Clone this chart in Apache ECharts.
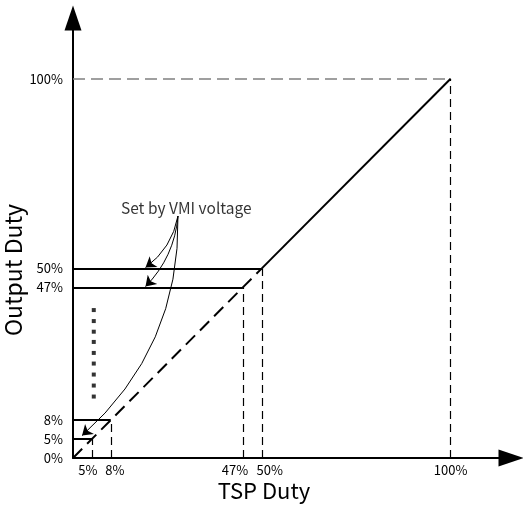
<!DOCTYPE html>
<html>
<head>
<meta charset="utf-8">
<title>TSP Duty / Output Duty</title>
<script src="https://cdn.jsdelivr.net/npm/echarts@6/dist/echarts.min.js"></script>
<style>
    html, body { margin: 0; padding: 0; background: #fff; }
    #main { width: 523px; height: 508px; }
</style>
</head>
<body>
<div id="main"></div>
<script>
// 刻度位置与标签（示意图，位置按原图读取）
var xTickPos = [5, 10, 45, 50, 100];
var xTickLabels = ['5%', '8%', '47%', '50%', '100%'];
var yTickPos = [0, 5, 10, 45, 50, 100];
var yTickLabels = ['0%', '5%', '8%', '47%', '50%', '100%'];

// VMI 设定点
var setPoints = [5, 10, 45, 50];
var fullScale = 100;

// 输出曲线
var solidLine = [[50, 50], [100, 100]];
var dashedLine = [[0, 0], [50, 50]];

// 竖排省略点
var dotsX = 5.5;
var dotsY = [39.0, 36.1, 33.3, 30.6, 27.7, 24.9, 22.0, 19.1, 16.2];

// 注释
var noteText = 'Set by VMI voltage';
var notePos = [30.0, 65.9];
var arrowStart = [27.8, 63.8];
var arrowEnds = [[19.2, 50.2], [19.2, 45.2], [2.4, 5.9]];
var arrowBend = [0.2, 0.18, 0.23];

var font = "'Noto Sans CJK JP', 'Noto Sans', sans-serif";

function lookup(pos, labels, v) {
    var i = pos.indexOf(v);
    return i < 0 ? '' : labels[i];
}

// x 轴标签的左右微调（rich 样式名）
var xShift = {'5%': 'r8', '8%': 'l8', '47%': 'r16', '50%': 'l16'};

function richStyle(pad) {
    return {fontFamily: font, fontSize: 13, color: '#000', padding: pad};
}

var myChart = echarts.init(document.getElementById('main'));

var option = {
    animation: false,
    grid: {left: 73, top: 18, right: 12, bottom: 50, outerBoundsMode: 'none'},
    xAxis: {
        type: 'value',
        min: 0,
        max: 116,
        name: 'TSP Duty',
        nameLocation: 'middle',
        nameGap: 22,
        nameMoveOverlap: false,
        nameTextStyle: {fontFamily: font, fontSize: 22, color: '#000', padding: [0, 56, 0, 0]},
        axisLine: {
            lineStyle: {color: '#000', width: 2},
            symbol: ['none', 'triangle'],
            symbolSize: [17, 25]
        },
        axisTick: {show: false},
        splitLine: {show: false},
        axisLabel: {
            customValues: xTickPos,
            margin: 6,
            fontFamily: font,
            fontSize: 13,
            color: '#000',
            formatter: function (v) {
                var s = lookup(xTickPos, xTickLabels, v);
                return xShift[s] ? '{' + xShift[s] + '|' + s + '}' : s;
            },
            rich: {
                r8: richStyle([0, 8, 0, 0]),
                l8: richStyle([0, 0, 0, 8]),
                r16: richStyle([0, 16, 0, 0]),
                l16: richStyle([0, 0, 0, 16])
            }
        }
    },
    yAxis: {
        type: 'value',
        min: 0,
        max: 116,
        name: 'Output Duty',
        nameLocation: 'middle',
        nameGap: 48,
        nameMoveOverlap: false,
        nameTextStyle: {fontFamily: font, fontSize: 23, color: '#000', padding: [0, 64, 0, 0]},
        axisLine: {
            lineStyle: {color: '#000', width: 2},
            symbol: ['none', 'triangle'],
            symbolSize: [17, 25]
        },
        axisTick: {show: false},
        splitLine: {show: false},
        axisLabel: {
            customValues: yTickPos,
            margin: 10,
            fontFamily: font,
            fontSize: 13,
            color: '#000',
            formatter: function (v) {
                return lookup(yTickPos, yTickLabels, v);
            }
        }
    },
    series: [
        {
            // 100% 水平虚线
            type: 'lines',
            coordinateSystem: 'cartesian2d',
            silent: true,
            lineStyle: {color: '#808080', width: 1.5, type: [12, 6], opacity: 1},
            data: [{coords: [[0, fullScale], [fullScale, fullScale]]}]
        },
        {
            // 竖直虚线
            type: 'lines',
            coordinateSystem: 'cartesian2d',
            silent: true,
            lineStyle: {color: '#000', width: 1.2, type: [8, 5], opacity: 1},
            data: setPoints.concat([fullScale]).map(function (v) {
                return {coords: [[v, 0], [v, v]]};
            })
        },
        {
            // VMI 设定的水平实线
            type: 'lines',
            coordinateSystem: 'cartesian2d',
            silent: true,
            lineStyle: {color: '#000', width: 2, opacity: 1},
            data: setPoints.map(function (v) {
                return {coords: [[0, v], [v, v]]};
            })
        },
        {
            type: 'line',
            data: dashedLine,
            showSymbol: false,
            silent: true,
            lineStyle: {color: '#000', width: 2, type: [13, 7]}
        },
        {
            type: 'line',
            data: solidLine,
            showSymbol: false,
            silent: true,
            lineStyle: {color: '#000', width: 2}
        },
        {
            type: 'scatter',
            symbol: 'rect',
            symbolSize: 4,
            silent: true,
            itemStyle: {color: '#000'},
            data: dotsY.map(function (y) { return [dotsX, y]; })
        },
        {
            // 注释箭头
            type: 'lines',
            coordinateSystem: 'cartesian2d',
            silent: true,
            symbol: ['none', 'arrow'],
            symbolSize: [7, 10],
            lineStyle: {color: '#000', width: 1, opacity: 1},
            data: arrowEnds.map(function (p, i) {
                return {coords: [arrowStart, p], lineStyle: {curveness: arrowBend[i]}};
            })
        },
        {
            type: 'scatter',
            symbolSize: 1,
            silent: true,
            itemStyle: {color: 'transparent'},
            label: {
                show: true,
                position: 'inside',
                formatter: noteText,
                fontFamily: font,
                fontSize: 15.5,
                color: '#000'
            },
            data: [notePos]
        }
    ]
};
myChart.setOption(option);
</script>
</body>
</html>
